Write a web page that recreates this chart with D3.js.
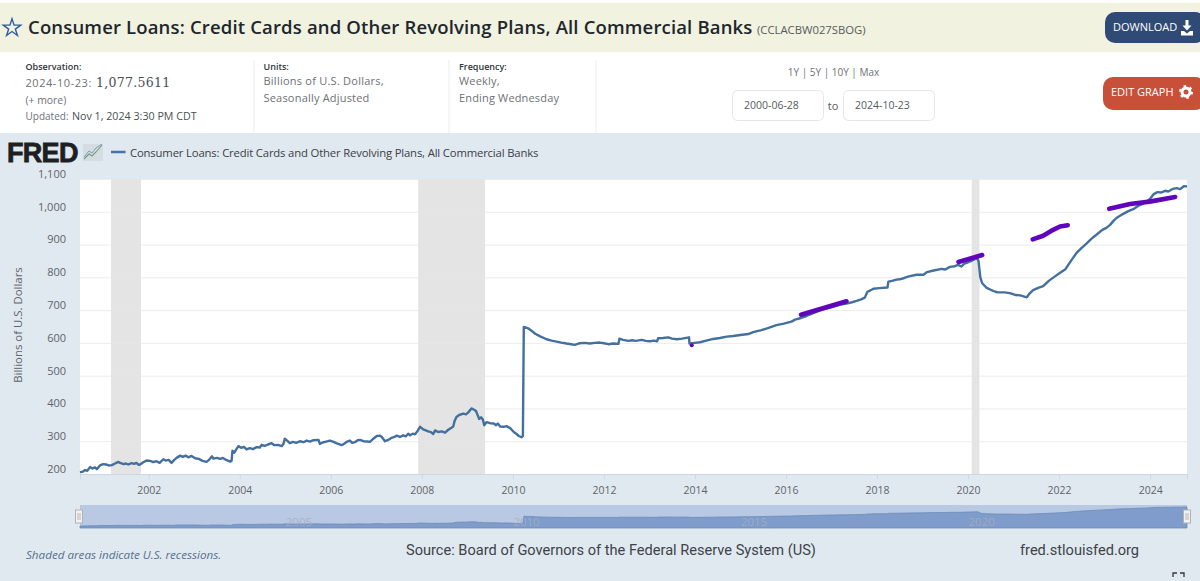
<!DOCTYPE html>
<html>
<head>
<meta charset="utf-8">
<title>FRED CCLACBW027SBOG</title>
<script src="https://cdn.jsdelivr.net/npm/d3@7"></script>
<style>
  html, body { margin: 0; padding: 0; background: #fff; overflow: hidden; }
  svg { display: block; }
</style>
</head>
<body>
<div id="chart"></div>
<script>
// Series: decimal year and billions of dollars
const years = [
  2000.49, 2000.55, 2000.60, 2000.65, 2000.71, 2000.76, 2000.82, 2000.86, 2000.93, 2001.00,
  2001.06, 2001.12, 2001.19, 2001.26, 2001.33, 2001.37, 2001.45, 2001.50, 2001.55, 2001.63,
  2001.68, 2001.73, 2001.78, 2001.81, 2001.88, 2001.95, 2002.03, 2002.10, 2002.17, 2002.24,
  2002.32, 2002.37, 2002.44, 2002.50, 2002.56, 2002.62, 2002.69, 2002.75, 2002.81, 2002.87,
  2002.94, 2003.02, 2003.10, 2003.18, 2003.27, 2003.33, 2003.39, 2003.42, 2003.50, 2003.57,
  2003.63, 2003.70, 2003.79, 2003.82, 2003.84, 2003.88, 2003.92, 2003.97, 2004.03, 2004.09,
  2004.15, 2004.22, 2004.29, 2004.37, 2004.44, 2004.48, 2004.55, 2004.62, 2004.70, 2004.76,
  2004.84, 2004.92, 2004.96, 2004.99, 2005.04, 2005.10, 2005.17, 2005.24, 2005.32, 2005.40,
  2005.47, 2005.54, 2005.62, 2005.73, 2005.76, 2005.82, 2005.90, 2005.98, 2006.06, 2006.12,
  2006.24, 2006.30, 2006.36, 2006.42, 2006.47, 2006.53, 2006.59, 2006.64, 2006.72, 2006.80,
  2006.86, 2006.92, 2007.01, 2007.08, 2007.12, 2007.19, 2007.25, 2007.33, 2007.40, 2007.45,
  2007.52, 2007.59, 2007.65, 2007.70, 2007.74, 2007.80, 2007.85, 2007.90, 2007.96, 2008.03,
  2008.14, 2008.20, 2008.25, 2008.29, 2008.36, 2008.44, 2008.51, 2008.58, 2008.64, 2008.69,
  2008.72, 2008.76, 2008.82, 2008.91, 2008.97, 2009.02, 2009.09, 2009.15, 2009.19, 2009.23,
  2009.26, 2009.30, 2009.34, 2009.37, 2009.42, 2009.50, 2009.58, 2009.63, 2009.67, 2009.72,
  2009.80, 2009.86, 2009.94, 2010.02, 2010.08, 2010.13, 2010.19, 2010.22, 2010.24, 2010.34,
  2010.42, 2010.49, 2010.60, 2010.74, 2010.85, 2010.96, 2011.06, 2011.18, 2011.28, 2011.36,
  2011.47, 2011.58, 2011.69, 2011.80, 2011.91, 2012.00, 2012.10, 2012.20, 2012.32, 2012.34,
  2012.42, 2012.54, 2012.62, 2012.70, 2012.83, 2012.92, 2013.01, 2013.10, 2013.17, 2013.19,
  2013.30, 2013.41, 2013.50, 2013.60, 2013.72, 2013.87, 2013.88, 2014.00, 2014.11, 2014.25,
  2014.40, 2014.55, 2014.70, 2014.84, 2015.00, 2015.17, 2015.28, 2015.46, 2015.60, 2015.79,
  2015.95, 2016.12, 2016.20, 2016.33, 2016.45, 2016.60, 2016.75, 2016.89, 2017.05, 2017.20,
  2017.33, 2017.45, 2017.55, 2017.65, 2017.73, 2017.79, 2017.85, 2017.92, 2018.05, 2018.23,
  2018.25, 2018.33, 2018.43, 2018.50, 2018.60, 2018.70, 2018.87, 2019.02, 2019.10, 2019.22,
  2019.42, 2019.50, 2019.60, 2019.71, 2019.78, 2019.85, 2019.92, 2020.00, 2020.10, 2020.20,
  2020.23, 2020.27, 2020.31, 2020.41, 2020.50, 2020.60, 2020.66, 2020.80, 2020.92, 2021.05,
  2021.15, 2021.29, 2021.36, 2021.43, 2021.54, 2021.65, 2021.78, 2021.91, 2022.03, 2022.14,
  2022.22, 2022.28, 2022.38, 2022.49, 2022.60, 2022.72, 2022.82, 2022.95, 2023.04, 2023.12,
  2023.20, 2023.26, 2023.40, 2023.52, 2023.63, 2023.75, 2023.85, 2023.92, 2024.00, 2024.08,
  2024.16, 2024.25, 2024.33, 2024.40, 2024.50, 2024.58, 2024.66, 2024.74, 2024.81
];
const values = [
  205, 207, 212, 210, 221, 217, 220, 215, 226, 230,
  229, 226, 227, 232, 237, 234, 230, 232, 229, 233,
  231, 234, 228, 229, 236, 241, 240, 236, 239, 234,
  245, 241, 243, 234, 243, 250, 256, 252, 256, 251,
  255, 248, 246, 240, 237, 244, 254, 247, 249, 246,
  249, 243, 238, 240, 271, 265, 274, 285, 280, 283,
  275, 279, 276, 282, 281, 289, 286, 290, 294, 288,
  289, 285, 292, 308, 302, 294, 298, 295, 300, 297,
  302, 299, 303, 304, 292, 296, 299, 302, 298, 294,
  288, 293, 299, 302, 295, 297, 303, 304, 300, 299,
  298, 306, 316, 317, 313, 300, 303, 310, 313, 317,
  313, 318, 315, 323, 318, 323, 321, 330, 344, 336,
  330, 328, 322, 333, 328, 330, 326, 335, 340, 345,
  362, 374, 380, 384, 382, 388, 400, 396, 392, 378,
  368, 373, 366, 349, 358, 355, 354, 349, 354, 345,
  344, 346, 340, 328, 322, 316, 312, 316, 649, 644,
  636, 628, 620, 611, 607, 604, 601, 598, 596, 594,
  599, 600, 598, 600, 601, 599, 596, 598, 597, 613,
  609, 606, 608, 606, 609, 606, 605, 607, 605, 614,
  615, 617, 613, 611, 613, 617, 598, 600, 602, 607,
  612, 615, 619, 621, 624, 627, 633, 639, 645, 654,
  659, 665, 671, 676, 682, 691, 699, 705, 711, 717,
  720, 724, 728, 733, 738, 756, 760, 765, 767, 769,
  787, 789, 793, 794, 798, 803, 808, 808, 816, 820,
  826, 824, 832, 834, 838, 833, 842, 846, 852, 859,
  849, 800, 782, 768, 762, 756, 754, 754, 752, 746,
  745, 739, 752, 761, 768, 773, 790, 803, 815, 825,
  842, 854, 874, 889, 903, 919, 930, 945, 951, 960,
  973, 981, 993, 1002, 1008, 1019, 1025, 1031, 1040, 1054,
  1060, 1059, 1064, 1062, 1070, 1072, 1069, 1078, 1077.56
];

const recessionStarts = [2001.17, 2007.92, 2020.08];
const recessionEnds = [2001.83, 2009.39, 2020.25];

const yTicks = [200, 300, 400, 500, 600, 700, 800, 900, 1000, 1100];
const xTicks = [2002, 2004, 2006, 2008, 2010, 2012, 2014, 2016, 2018, 2020, 2022, 2024];
const navLabels = [2005, 2010, 2015, 2020];

// Hand drawn purple marks on top of the chart
const markYears = [
  [2016.33, 2017.33],
  [2019.79, 2020.31],
  [2021.42, 2021.65, 2021.87, 2022.02, 2022.19],
  [2023.10, 2023.56, 2023.99, 2024.55]
];
const markValues = [
  [686, 727],
  [847, 868],
  [916, 927, 945, 955, 959],
  [1009, 1024, 1031, 1045]
];
const dotYear = 2013.93;
const dotValue = 593;

const seriesTitle = "Consumer Loans: Credit Cards and Other Revolving Plans, All Commercial Banks";

const width = 1200;
const height = 581;
const plot = { left: 80, right: 1187, top: 179, bottom: 474 };
const nav = { top: 505, bottom: 528 };

const svg = d3
  .select("#chart")
  .append("svg")
  .attr("width", width)
  .attr("height", height)
  .attr("viewBox", `0 0 ${width} ${height}`);

const label = (x, y, str, size, fill, opts = {}) =>
  svg
    .append("text")
    .attr("x", x)
    .attr("y", y)
    .attr("font-family", opts.family || "'Open Sans'")
    .attr("font-size", size)
    .attr("font-weight", opts.weight || 400)
    .attr("font-style", opts.style || "normal")
    .attr("text-anchor", opts.anchor || "start")
    .attr("letter-spacing", opts.spacing || 0)
    .attr("fill", fill)
    .text(str);

// Backgrounds
svg.append("rect").attr("width", width).attr("height", height).attr("fill", "#ffffff");
svg.append("rect").attr("y", 3).attr("width", width).attr("height", 49).attr("fill", "#f1f2df");
svg.append("rect").attr("y", 133).attr("width", width).attr("height", height - 133).attr("fill", "#e1e9f0");

// Title bar
svg
  .append("path")
  .attr("d", d3.symbol(d3.symbolStar, 95)())
  .attr("transform", "translate(12,28)")
  .attr("fill", "none")
  .attr("stroke", "#2f5f9e")
  .attr("stroke-width", 1.4);
label(28, 33.5, seriesTitle, 18.5, "#20262c", { weight: 600, spacing: 0.16 });
label(757, 34, "(CCLACBW027SBOG)", 11.3, "#555b60");

// Buttons
svg.append("rect").attr("x", 1105).attr("y", 12).attr("width", 100).attr("height", 31).attr("rx", 10).attr("fill", "#2f4a75");
label(1113, 31, "DOWNLOAD", 11, "#ffffff");
svg.append("path").attr("fill", "#ffffff")
  .attr("d", "M1185.500 20h3v5.500h3l-4.500 5-4.500-5h3zM1181 31h3l3 2.500 3-2.500h3v4.500h-12z");
svg.append("rect").attr("x", 1103).attr("y", 77).attr("width", 102).attr("height", 33).attr("rx", 10).attr("fill", "#c84f38");
label(1111, 96, "EDIT GRAPH", 11, "#ffffff");
svg.append("circle").attr("cx", 1186).attr("cy", 92).attr("r", 4).attr("fill", "none")
  .attr("stroke", "#ffffff").attr("stroke-width", 3);
svg.append("circle").attr("cx", 1186).attr("cy", 92).attr("r", 6).attr("fill", "none")
  .attr("stroke", "#ffffff").attr("stroke-width", 2).attr("stroke-dasharray", "2.500 3.780");

// Notes row
label(25.5, 70, "Observation:", 9, "#30363c", { weight: 600 });
label(25.5, 87, "2024-10-23:", 11, "#6d7277", { spacing: 0.55 });
label(96, 87, "1,077.5611", 12.5, "#4a4f54", { family: "'DejaVu Serif'", spacing: 0.3 });
label(25.5, 104, "(+ more)", 10.4, "#6d7277");
label(25.5, 120, "Updated:", 10, "#6d7277");
label(72, 120, "Nov 1, 2024 3:30 PM CDT", 10.7, "#4a4f54");

label(263.500, 70, "Units:", 9, "#30363c", { weight: 600 });
label(263.500, 85, "Billions of U.S. Dollars,", 11, "#6d7277", { spacing: 0.24 });
label(263.500, 102, "Seasonally Adjusted", 11, "#6d7277", { spacing: 0.2 });

label(459, 70, "Frequency:", 9, "#30363c", { weight: 600 });
label(459, 85, "Weekly,", 11, "#6d7277", { spacing: 0.2 });
label(459, 102, "Ending Wednesday", 11, "#6d7277", { spacing: 0.16 });

[254, 449, 596].forEach(x => {
  svg.append("line").attr("x1", x).attr("x2", x).attr("y1", 60).attr("y2", 133)
    .attr("stroke", "#e9edf0");
});

label(833.500, 76, "1Y | 5Y | 10Y | Max", 10, "#6d7277", { anchor: "middle" });
[[732, "2000-06-28"], [843, "2024-10-23"]].forEach(([x, str]) => {
  svg.append("rect").attr("x", x + 0.5).attr("y", 90.5).attr("width", 91).attr("height", 30).attr("rx", 5)
    .attr("fill", "#ffffff").attr("stroke", "#e4e6e8");
  label(x + 12, 109, str, 10.5, "#555b60");
});
label(833, 110, "to", 11, "#555b60", { anchor: "middle" });

// FRED logo and legend
svg.append("text").attr("x", 7).attr("y", 162).attr("font-family", "'Liberation Sans'")
  .attr("font-weight", 700).attr("font-size", 27).attr("letter-spacing", -0.7)
  .attr("fill", "#1d1f22").attr("stroke", "#1d1f22").attr("stroke-width", 0.8).text("FRED");
svg.append("rect").attr("x", 83).attr("y", 144).attr("width", 20).attr("height", 17).attr("fill", "#d5dde2");
svg.append("path").attr("d", "M84 159l5-5 3 2 4-4 6-7").attr("fill", "none").attr("stroke", "#6f9f78").attr("stroke-width", 1.1);
svg.append("path").attr("d", "M84 157l5-6 3 2 4-5 6-4").attr("fill", "none").attr("stroke", "#7f9ab8").attr("stroke-width", 1);
svg.append("line").attr("x1", 111).attr("x2", 125.5).attr("y1", 152).attr("y2", 152)
  .attr("stroke", "#4572a7").attr("stroke-width", 2.5);
label(130, 156.500, seriesTitle, 11.3, "#3a4046", { spacing: -0.16 });

// Scales
const xScale = d3.scaleLinear().domain([2000.49, 2024.81]).range([plot.left, plot.right]);
const yScale = d3.scaleLinear().domain([200, 1100]).range([plot.bottom, plot.top]);

const navY = d3.scaleLinear().domain([205, 1077]).range([526, 507]);

// Plot background, recessions, grid
svg.append("rect")
  .attr("x", plot.left).attr("y", plot.top)
  .attr("width", plot.right - plot.left).attr("height", plot.bottom - plot.top)
  .attr("fill", "#ffffff");

svg.append("g")
  .selectAll("rect")
  .data(recessionStarts)
  .enter()
  .append("rect")
  .attr("x", d => xScale(d))
  .attr("y", plot.top)
  .attr("width", (d, i) => xScale(recessionEnds[i]) - xScale(d))
  .attr("height", plot.bottom - plot.top)
  .attr("fill", "#e4e4e4");

// Axes
const yAxis = d3
  .axisLeft(yScale)
  .tickValues(yTicks)
  .tickSize(-(plot.right - plot.left))
  .tickFormat(d3.format(","));
const yG = svg
  .append("g")
  .attr("transform", `translate(${plot.left},0)`)
  .call(yAxis);
yG.select(".domain").remove();
yG.selectAll(".tick line").attr("stroke", "#e6e6e6").attr("stroke-opacity", 0.75).attr("stroke-width", 1);
yG.selectAll(".tick text")
  .attr("x", -14)
  .attr("dy", "-0.15em")
  .attr("font-family", "'Open Sans'")
  .attr("font-size", 11)
  .attr("fill", "#5f6468");

const xAxis = d3
  .axisBottom(xScale)
  .tickValues(xTicks)
  .tickSize(5)
  .tickPadding(8)
  .tickFormat(d3.format("d"));
const xG = svg
  .append("g")
  .attr("transform", `translate(0,${plot.bottom})`)
  .call(xAxis);
xG.select(".domain").attr("stroke", "#ccd6eb");
xG.selectAll(".tick line").attr("stroke", "#ccd6eb");
xG.selectAll(".tick text")
  .attr("font-family", "'Open Sans'")
  .attr("font-size", 10.5)
  .attr("fill", "#5f6468");

svg.append("text")
  .attr("transform", "translate(22,325) rotate(-90)")
  .attr("text-anchor", "middle")
  .attr("font-family", "'Open Sans'")
  .attr("font-size", 11.4)
  .attr("fill", "#5f6468")
  .text("Billions of U.S. Dollars");

// The series
const lineGenerator = d3
  .line()
  .x((d, i) => xScale(years[i]))
  .y(d => yScale(d));

svg.append("path")
  .datum(values)
  .attr("d", lineGenerator)
  .attr("fill", "none")
  .attr("stroke", "#44709f")
  .attr("stroke-width", 2.4)
  .attr("stroke-linejoin", "round");

// Purple marker strokes
const markLine = d3
  .line()
  .x(d => xScale(d[0]))
  .y(d => yScale(d[1]));

markYears.forEach((ys, i) => {
  svg.append("path")
    .datum(ys.map((y, j) => [y, markValues[i][j]]))
    .attr("d", markLine)
    .attr("fill", "none")
    .attr("stroke", "#5f06bd")
    .attr("stroke-width", 4.6)
    .attr("stroke-linecap", "round")
    .attr("stroke-linejoin", "round");
});
svg.append("circle")
  .attr("cx", xScale(dotYear))
  .attr("cy", yScale(dotValue))
  .attr("r", 2)
  .attr("fill", "#5f06bd");

// Range navigator
svg.append("rect")
  .attr("x", plot.left).attr("y", nav.top)
  .attr("width", plot.right - plot.left).attr("height", nav.bottom - nav.top)
  .attr("fill", "#b9c9e3");

const navArea = d3
  .area()
  .x((d, i) => xScale(years[i]))
  .y0(nav.bottom)
  .y1(d => navY(d));

svg.append("path").datum(values).attr("d", navArea)
  .attr("fill", "#7f9cca").attr("stroke", "#6a8bbd").attr("stroke-width", 0.8);

navLabels.forEach(y => {
  label(xScale(y + 0.3), 526, y, 11.5, "#a3afc6", { anchor: "middle" }).attr("opacity", 0.85);
});

[plot.left - 1, plot.right].forEach(x => {
  svg.append("rect").attr("x", x - 3.5).attr("y", 510).attr("width", 7).attr("height", 13)
    .attr("fill", "#f2f2f2").attr("stroke", "#aeb2b6");
  svg.append("path").attr("d", `M${x - 1} 513v7M${x + 1} 513v7`).attr("stroke", "#9a9ea2").attr("stroke-width", 0.7);
});

// Footer
label(26, 559, "Shaded areas indicate U.S. recessions.", 11.65, "#56708f", { style: "italic" });
label(406, 555, "Source: Board of Governors of the Federal Reserve System (US)", 14.6, "#3d4348", { family: "Roboto" });
label(1020, 555, "fred.stlouisfed.org", 14.6, "#3d4348", { family: "Roboto" });
svg.append("path")
  .attr("d", "M1173 577v-4h4M1180 573h4v4")
  .attr("fill", "none").attr("stroke", "#33383c").attr("stroke-width", 1.3);
</script>
</body>
</html>
